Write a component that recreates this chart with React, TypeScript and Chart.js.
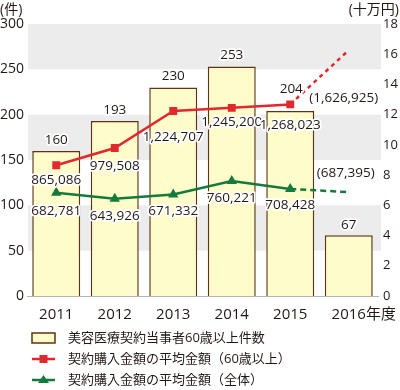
import React, { useEffect, useRef } from "react";
import { Chart, registerables } from "chart.js";

Chart.register(...registerables);

const years = ["2011", "2012", "2013", "2014", "2015", "2016"];
const caseCounts = [160, 193, 230, 253, 204, 67];
const avgSenior = [865086, 979508, 1224707, 1245200, 1268023, 1626925];
const avgAll = [682781, 643926, 671332, 760221, 708428, 687395];
const leftTicksMax = 300;
const rightTicksMax = 18;
const legendLabels = [
  "美容医療契約当事者60歳以上件数",
  "契約購入金額の平均金額（60歳以上）",
  "契約購入金額の平均金額（全体）",
];

const FONT = '"Open Sans", "Noto Sans CJK JP", sans-serif';
const TXT = "#231815";
const RED = "#e0282d";
const GREEN = "#137a3c";
const BAR_FILL = "#fffccc";
const BAR_BORDER = "#5e3413";

const barDy = [-11, -11, -11, -11, -22, -10];
const barDx = [0, 0, 0, 0, 1, 0];
const redDy = [15, 18, 26, 14, 21, 48];
const redDx = [0, 0, 0, 0, 0, -5];
const greenDy = [18, 17, 17, 17, 16, -19];
const greenDx = [0, 0, 0, 0, 0, -3];

const fmt = (v: number, i: number) => {
  const s = v.toLocaleString("en-US");
  return i === 5 ? `(${s})` : s;
};

function haloText(ctx: CanvasRenderingContext2D, text: string, x: number, y: number) {
  ctx.save();
  ctx.lineJoin = "round";
  ctx.strokeStyle = "#ffffff";
  ctx.lineWidth = 3.5;
  ctx.strokeText(text, x, y);
  ctx.fillStyle = TXT;
  ctx.fillText(text, x, y);
  ctx.restore();
}

const bandsPlugin = {
  id: "bands",
  beforeDatasetsDraw(chart: any) {
    const { ctx, chartArea, scales } = chart;
    const y = scales.y;
    ctx.save();
    ctx.fillStyle = "#ececec";
    for (let v = 250; v >= 50; v -= 100) {
      const top = y.getPixelForValue(v + 50);
      const bot = y.getPixelForValue(v);
      ctx.fillRect(chartArea.left + 1, top, chartArea.right - chartArea.left + 2, bot - top);
    }
    ctx.restore();
  },
  afterDatasetsDraw(chart: any) {
    const { ctx, scales } = chart;
    ctx.save();
    ctx.font = `13.5px ${FONT}`;
    ctx.textAlign = "center";
    ctx.textBaseline = "middle";
    const barMeta = chart.getDatasetMeta(0);
    barMeta.data.forEach((el: any, i: number) => {
      haloText(ctx, String(caseCounts[i]), el.x + barDx[i], el.y + barDy[i]);
    });
    const redMeta = chart.getDatasetMeta(1);
    redMeta.data.forEach((el: any, i: number) => {
      haloText(ctx, fmt(avgSenior[i], i), el.x + redDx[i], el.y + redDy[i]);
    });
    const greenMeta = chart.getDatasetMeta(2);
    greenMeta.data.forEach((el: any, i: number) => {
      haloText(ctx, fmt(avgAll[i], i), el.x + greenDx[i], el.y + greenDy[i]);
    });

    // axis titles
    ctx.fillStyle = TXT;
    ctx.font = `14px ${FONT}`;
    ctx.textAlign = "left";
    ctx.fillText("(件)", 0, 10);
    ctx.textAlign = "right";
    ctx.fillText("(十万円)", 399, 10);

    // 年度 suffix
    const xs = scales.x;
    const lastX = xs.getPixelForValue(5);
    ctx.font = `15px ${FONT}`;
    const w = ctx.measureText("2016").width;
    ctx.textAlign = "left";
    ctx.fillText("年度", lastX + w / 2, 315);

    // legend
    ctx.font = `13px ${FONT}`;
    ctx.textAlign = "left";
    ctx.textBaseline = "middle";
    const rows = [338, 359, 380];
    ctx.fillStyle = BAR_FILL;
    ctx.fillRect(32, 333, 23, 10);
    ctx.strokeStyle = BAR_BORDER;
    ctx.lineWidth = 1.5;
    ctx.strokeRect(32, 333, 23, 10);
    ctx.strokeStyle = RED;
    ctx.lineWidth = 2.5;
    ctx.beginPath();
    ctx.moveTo(32, rows[1]);
    ctx.lineTo(55, rows[1]);
    ctx.stroke();
    ctx.fillStyle = RED;
    ctx.fillRect(43.5 - 4, rows[1] - 4, 8, 8);
    ctx.strokeStyle = GREEN;
    ctx.beginPath();
    ctx.moveTo(32, rows[2]);
    ctx.lineTo(55, rows[2]);
    ctx.stroke();
    ctx.fillStyle = GREEN;
    ctx.beginPath();
    ctx.moveTo(43.5, rows[2] - 5);
    ctx.lineTo(49, rows[2] + 3);
    ctx.lineTo(38, rows[2] + 3);
    ctx.closePath();
    ctx.fill();
    ctx.fillStyle = TXT;
    legendLabels.forEach((t, i) => ctx.fillText(t, 68, rows[i]));
    ctx.restore();
  },
};

export default function App() {
  const ref = useRef<HTMLCanvasElement | null>(null);
  useEffect(() => {
    if (!ref.current) return;
    const dashLast = (dash: number[]) => (c: any) => (c.p1DataIndex === 5 ? dash : undefined);
    const chart = new Chart(ref.current, {
      type: "bar",
      data: {
        labels: years,
        datasets: [
          {
            type: "bar",
            data: caseCounts,
            yAxisID: "y",
            backgroundColor: BAR_FILL,
            borderColor: BAR_BORDER,
            borderWidth: 1.5,
            barPercentage: 0.82,
            categoryPercentage: 1,
            order: 3,
          } as any,
          {
            type: "line",
            data: avgSenior.map((v) => v / 100000),
            yAxisID: "y1",
            borderColor: RED,
            backgroundColor: RED,
            borderWidth: 2.5,
            pointStyle: "rect",
            pointRadius: [5.6, 5.6, 5.6, 5.6, 5.6, 0],
            pointBorderWidth: 0,
            segment: { borderDash: dashLast([4, 4]) },
            tension: 0,
            order: 1,
          } as any,
          {
            type: "line",
            data: avgAll.map((v) => v / 100000),
            yAxisID: "y1",
            borderColor: GREEN,
            backgroundColor: GREEN,
            borderWidth: 2.5,
            pointStyle: "triangle",
            pointRadius: [6, 6, 6, 6, 6, 0],
            pointBorderWidth: 0,
            segment: { borderDash: dashLast([6, 4]) },
            tension: 0,
            order: 2,
          } as any,
        ],
      },
      options: {
        animation: false,
        responsive: false,
        layout: { padding: { top: 24, left: 0, right: 0, bottom: 0 } },
        plugins: { legend: { display: false }, tooltip: { enabled: false } },
        scales: {
          x: {
            grid: { display: false, drawTicks: false },
            border: { display: true, color: "#b5b5b5", width: 1 },
            ticks: { color: TXT, font: { family: FONT, size: 15 }, padding: 10 },
            afterFit: (s: any) => {
              s.height = 94;
            },
          },
          y: {
            position: "left",
            min: 0,
            max: leftTicksMax,
            grid: { display: false, drawTicks: false },
            border: { display: false },
            ticks: { stepSize: 50, color: TXT, font: { family: FONT, size: 14 }, padding: 3 },
            afterFit: (s: any) => {
              s.width = 27;
            },
          },
          y1: {
            position: "right",
            min: 0,
            max: rightTicksMax,
            grid: { display: false, drawTicks: false },
            border: { display: false },
            ticks: { stepSize: 2, color: TXT, font: { family: FONT, size: 13 }, padding: 5 },
            afterFit: (s: any) => {
              s.width = 22;
            },
          },
        },
      } as any,
      plugins: [bandsPlugin],
    });
    return () => chart.destroy();
  }, []);
  return (
    <div style={{ position: "absolute", left: 0, top: 0, width: 400, height: 390, background: "#fff" }}>
      <canvas ref={ref} width={400} height={390} />
    </div>
  );
}
